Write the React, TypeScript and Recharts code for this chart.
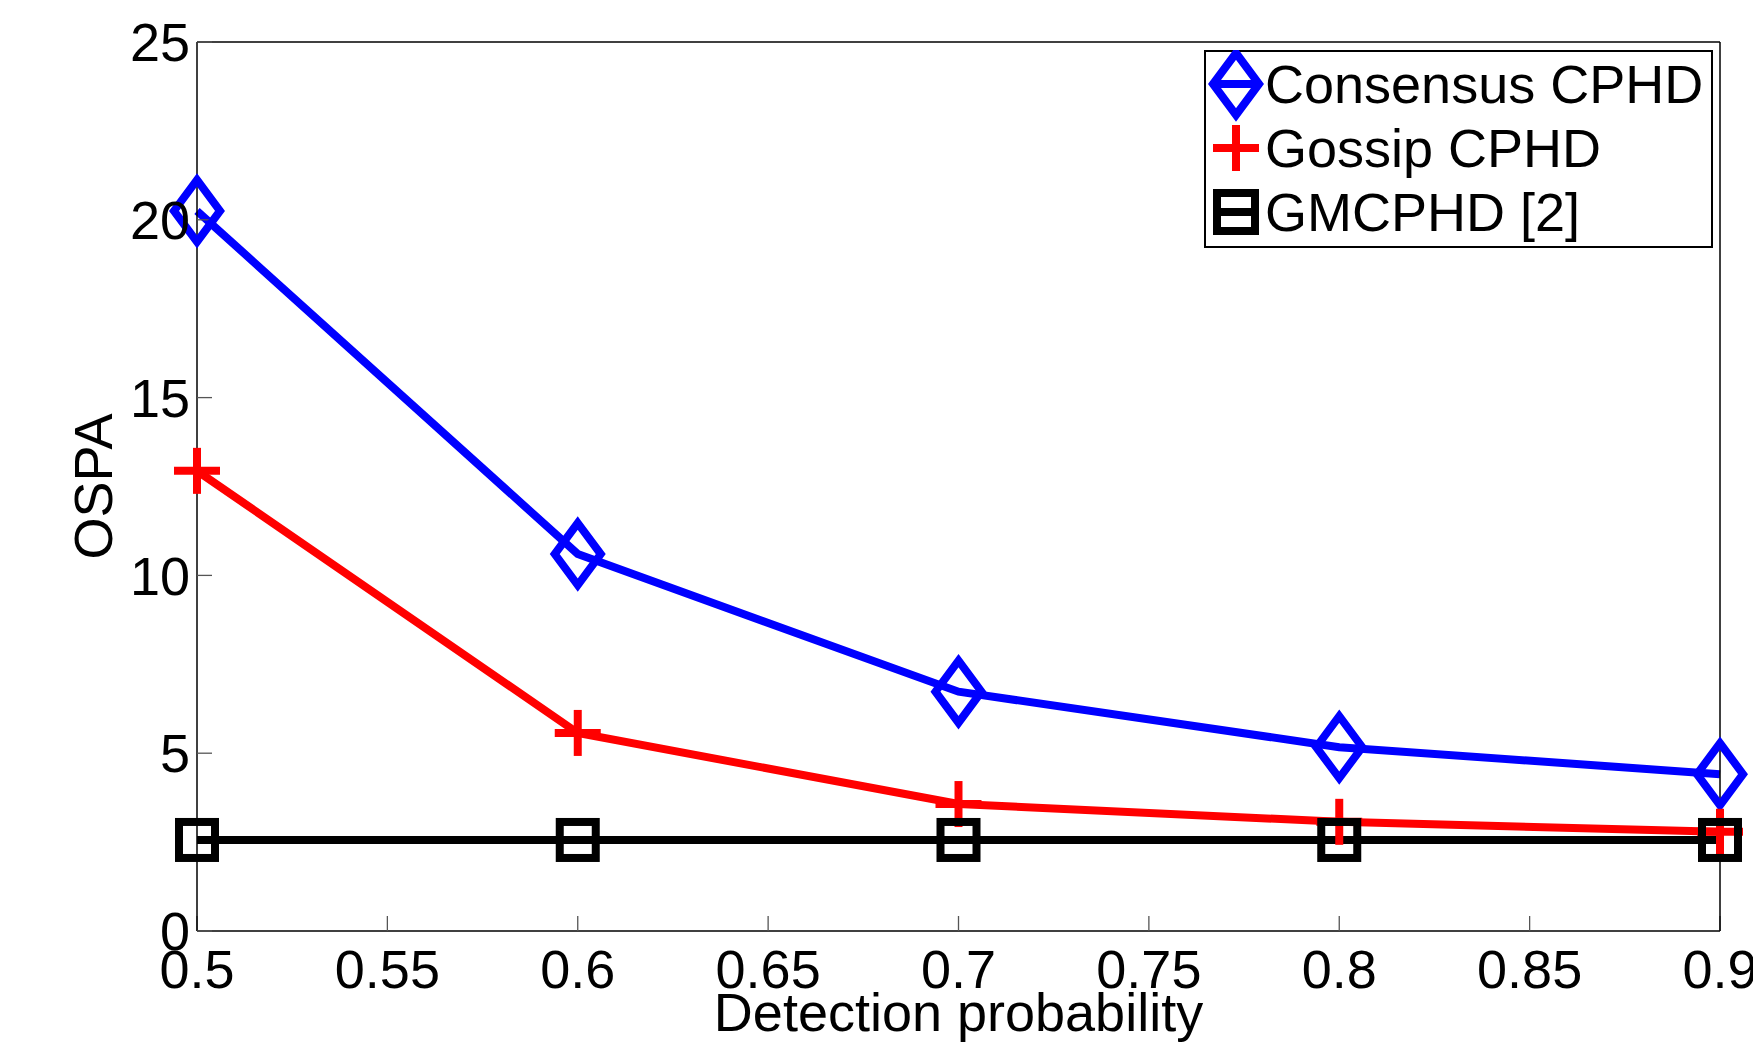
import React from 'react';
import { LineChart, Line, XAxis, YAxis, Legend, Label } from 'recharts';

const probabilities = [0.5, 0.6, 0.7, 0.8, 0.9];
const consensusCPHD = [20.25, 10.6, 6.73, 5.17, 4.41];
const gossipCPHD = [12.94, 5.57, 3.57, 3.07, 2.79];
const gmCPHD = [2.56, 2.56, 2.56, 2.56, 2.56];
const xTicks = [0.5, 0.55, 0.6, 0.65, 0.7, 0.75, 0.8, 0.85, 0.9];
const yTicks = [0, 5, 10, 15, 20, 25];
const seriesNames = ['Consensus CPHD', 'Gossip CPHD', 'GMCPHD [2]'];
const seriesColors = ['#0000ff', '#ff0000', '#000000'];
const xLabel = 'Detection probability';
const yLabel = 'OSPA';

const data = probabilities.map((p, i) => ({
  p,
  consensus: consensusCPHD[i],
  gossip: gossipCPHD[i],
  gm: gmCPHD[i],
}));

const FONT = '"Liberation Sans", Arial, Helvetica, sans-serif';
const FS = 54;
const SW = 8;

const diamond = (cx: number, cy: number) =>
  `M${cx},${cy - 31} L${cx + 23},${cy} L${cx},${cy + 31} L${cx - 23},${cy} Z`;

const Marker = ({ kind, cx, cy, legend }: any) => {
  if (kind === 0) {
    return (
      <g>
        <path d={diamond(cx, cy)} fill="none" stroke={seriesColors[0]} strokeWidth={SW} />
        {legend && <line x1={cx - 24} x2={cx + 24} y1={cy} y2={cy} stroke={seriesColors[0]} strokeWidth={SW} />}
      </g>
    );
  }
  if (kind === 1) {
    return (
      <g stroke={seriesColors[1]} strokeWidth={SW} fill="none">
        <line x1={cx - 23} x2={cx + 23} y1={cy} y2={cy} />
        <line x1={cx} x2={cx} y1={cy - 23} y2={cy + 23} />
      </g>
    );
  }
  const h = legend ? 19 : 18;
  return (
    <g stroke={seriesColors[2]} strokeWidth={SW} fill="none">
      <rect x={cx - h} y={cy - h} width={2 * h} height={2 * h} />
      {legend && <line x1={cx - h} x2={cx + h} y1={cy} y2={cy} />}
    </g>
  );
};

const makeDot = (kind: number) => (props: any) => {
  const { cx, cy, index } = props;
  if (cx == null || cy == null) return <g key={`d-${kind}-${index}`} />;
  return (
    <g key={`d-${kind}-${index}`}>
      <Marker kind={kind} cx={cx} cy={cy} />
    </g>
  );
};

const renderLegend = () => (
  <svg width={509} height={198} style={{ display: 'block' }}>
    <rect x={1} y={1} width={507} height={196} fill="#fff" stroke="#000" strokeWidth={2} />
    {seriesNames.map((name, i) => {
      const cy = 34 + i * 64;
      return (
        <g key={name}>
          <Marker kind={i} cx={32} cy={cy} legend />
          <text x={61} y={cy + 19} fontSize={FS} fontFamily={FONT} fill="#000">
            {name}
          </text>
        </g>
      );
    })}
  </svg>
);

const yLabelContent = (props: any) => {
  const vb = props.viewBox || {};
  const x = vb.x + vb.width - 104;
  const y = vb.y + vb.height / 2;
  return (
    <text
      x={x}
      y={y}
      transform={`rotate(-90, ${x}, ${y})`}
      textAnchor="middle"
      dy="0.355em"
      fontSize={FS}
      fontFamily={FONT}
      fill="#000"
    >
      {yLabel}
    </text>
  );
};

const tickStyle = { fontSize: FS, fontFamily: FONT, fill: '#000' };
const axisLineStyle = { stroke: '#000', strokeWidth: 1.5 };
const tickLineStyle = { stroke: '#555', strokeWidth: 1.3 };

export default function App() {
  return (
    <div style={{ position: 'absolute', left: 0, top: 0, background: '#fff' }}>
      <LineChart
        width={1753}
        height={1042}
        data={data}
        margin={{ top: 41, right: 32, bottom: 0, left: 196 }}
        style={{ fontFamily: FONT }}
      >
        <XAxis
          dataKey="p"
          type="number"
          domain={[0.5, 0.9]}
          ticks={xTicks}
          interval={0}
          height={111}
          tickSize={-15}
          tickMargin={34}
          tick={tickStyle}
          axisLine={axisLineStyle}
          tickLine={tickLineStyle}
          allowDecimals
        >
          <Label
            value={xLabel}
            position="insideBottom"
            offset={11}
            fontSize={FS}
            fontFamily={FONT}
            fill="#000"
          />
        </XAxis>
        <XAxis
          xAxisId="top"
          orientation="top"
          dataKey="p"
          type="number"
          domain={[0.5, 0.9]}
          ticks={xTicks}
          interval={0}
          height={1}
          tickSize={-15}
          tick={false}
          axisLine={axisLineStyle}
          tickLine={tickLineStyle}
        />
        <YAxis
          type="number"
          domain={[0, 25]}
          ticks={yTicks}
          interval={0}
          width={1}
          tickSize={-15}
          tickMargin={22}
          tick={tickStyle}
          axisLine={axisLineStyle}
          tickLine={tickLineStyle}
        >
          <Label content={yLabelContent} />
        </YAxis>
        <YAxis
          yAxisId="right"
          orientation="right"
          type="number"
          domain={[0, 25]}
          ticks={yTicks}
          interval={0}
          width={1}
          tickSize={-15}
          tick={false}
          axisLine={axisLineStyle}
          tickLine={tickLineStyle}
        />
        <Legend
          layout="horizontal"
          verticalAlign="middle"
          align="center"
          content={renderLegend}
          wrapperStyle={{ left: 1204, top: 50, width: 509, height: 198 }}
        />
        <Line
          dataKey="consensus"
          name={seriesNames[0]}
          type="linear"
          stroke={seriesColors[0]}
          strokeWidth={SW}
          dot={makeDot(0)}
          activeDot={false}
          isAnimationActive={false}
        />
        <Line
          dataKey="gossip"
          name={seriesNames[1]}
          type="linear"
          stroke={seriesColors[1]}
          strokeWidth={SW}
          dot={makeDot(1)}
          activeDot={false}
          isAnimationActive={false}
        />
        <Line
          dataKey="gm"
          name={seriesNames[2]}
          type="linear"
          stroke={seriesColors[2]}
          strokeWidth={SW}
          dot={makeDot(2)}
          activeDot={false}
          isAnimationActive={false}
        />
      </LineChart>
    </div>
  );
}
